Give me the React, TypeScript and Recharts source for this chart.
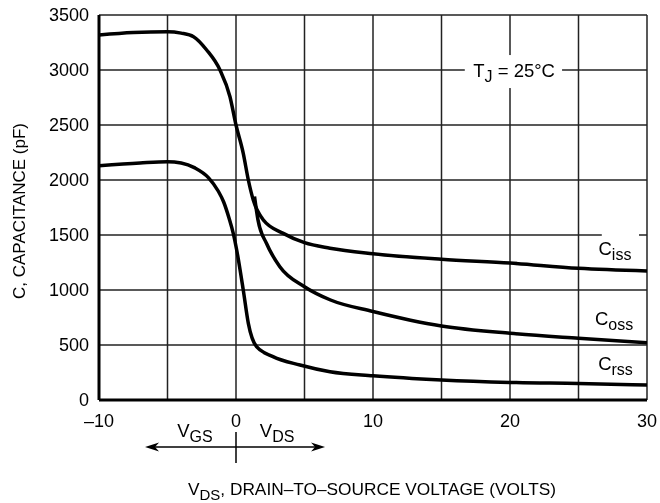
import React from 'react';
import { LineChart, Line, XAxis, YAxis, CartesianGrid, Customized } from 'recharts';

// ---- data ----
const xTicks = [-10, -5, 0, 5, 10, 15, 20, 25, 30];
const xLabelValues = [-10, 0, 10, 20, 30];
const xLabelTexts = ['\u201310', '0', '10', '20', '30'];
const yTicks = [0, 500, 1000, 1500, 2000, 2500, 3000, 3500];

const cissV = [-10, -7.5, -5, -4, -3.1, -2.14, -1.17, -0.44, 0, 0.53, 0.9, 1.26, 2, 3.45, 5, 6.86, 10, 15, 20, 25, 30];
const cissC = [3318, 3340, 3348, 3335, 3303, 3182, 3000, 2757, 2500, 2242, 2000, 1818, 1636, 1515, 1430, 1380, 1330, 1280, 1245, 1197, 1173];

const cossV = [1.35, 1.6, 2.24, 3.2, 5, 6.9, 10, 15, 20, 25, 30];
const cossC = [1850, 1640, 1420, 1212, 1030, 909, 805, 673, 606, 561, 521];

const crssV = [-10, -7, -5, -4, -3, -2, -1.3, -0.9, -0.5, -0.2, 0.05, 0.53, 0.9, 1.5, 2.7, 4.67, 6.86, 10, 15, 20, 25, 30];
const crssC = [2130, 2155, 2166, 2155, 2110, 2020, 1900, 1800, 1650, 1515, 1364, 1000, 697, 485, 394, 318, 257, 220, 182, 160, 150, 136];

const zip = (vs: number[], cs: number[]) => vs.map((v, i) => ({ v, c: cs[i] }));
const cissData = zip(cissV, cissC);
const cossData = zip(cossV, cossC);
const crssData = zip(crssV, crssC);

// ---- layout ----
const W = 652;
const H = 503;
const M = { top: 15, right: 13, left: 0, bottom: 73 };
const Y_W = 91;
const X_H = 30;
const PL = M.left + Y_W;
const PR = W - M.right;
const PT = M.top;
const PB = H - M.bottom - X_H;
const XMIN = -10, XMAX = 30, YMIN = 0, YMAX = 3500;
const sx = (v: number) => PL + ((v - XMIN) / (XMAX - XMIN)) * (PR - PL);
const sy = (c: number) => PB - ((c - YMIN) / (YMAX - YMIN)) * (PB - PT);

const FONT = "'Liberation Sans', Arial, Helvetica, sans-serif";
const FS = 18;
const AFS = 18.5;
const SUB = 16;

const Sub = ({ x, y, main, sub }: { x: number; y: number; main: string; sub: string }) => (
  <text x={x} y={y} textAnchor="middle" fontFamily={FONT} fontSize={AFS} fill="#000">
    <tspan>{main}</tspan>
    <tspan fontSize={SUB} dy={5}>{sub}</tspan>
  </text>
);

const Annotations = () => {
  const x0 = sx(0);
  const ay = PB + 47;
  const lx = sx(-6.64);
  const rx = sx(6.5);
  return (
    <g>
      {/* T_J box */}
      <rect x={sx(16.7)} y={sy(3136)} width={sx(23.8) - sx(16.7)} height={sy(2836) - sy(3136)} fill="#fff" />
      <text x={sx(20.3)} y={sy(2936)} textAnchor="middle" fontFamily={FONT} fontSize={AFS} fill="#000">
        <tspan>T</tspan>
        <tspan fontSize={SUB} dy={5}>J</tspan>
        <tspan dy={-5}> = 25°C</tspan>
      </text>
      {/* Ciss box */}
      <rect x={sx(26.7)} y={sy(1545)} width={sx(30) - sx(26.7) - 8} height={sy(1255) - sy(1545)} fill="#fff" />
      <Sub x={sx(27.66)} y={sy(1320)} main="C" sub="iss" />
      <Sub x={sx(27.6)} y={sy(680)} main="C" sub="oss" />
      <Sub x={sx(27.7)} y={sy(270)} main="C" sub="rss" />
      {/* V_GS / V_DS arrow */}
      <line x1={lx + 8} y1={ay} x2={rx - 8} y2={ay} stroke="#000" strokeWidth={1.5} />
      <path d={`M${lx},${ay} L${lx + 14},${ay - 4.5} L${lx + 10},${ay} L${lx + 14},${ay + 4.5} Z`} fill="#000" />
      <path d={`M${rx},${ay} L${rx - 14},${ay - 4.5} L${rx - 10},${ay} L${rx - 14},${ay + 4.5} Z`} fill="#000" />
      <line x1={x0} y1={PB + 32} x2={x0} y2={PB + 63} stroke="#000" strokeWidth={1.5} />
      <Sub x={sx(-3.0)} y={PB + 37} main="V" sub="GS" />
      <Sub x={sx(3.0)} y={PB + 37} main="V" sub="DS" />
      {/* axis titles */}
      <text x={364} y={PB + 95} textAnchor="middle" fontFamily={FONT} fontSize={17.3} fill="#000">
        <tspan>V</tspan>
        <tspan fontSize={15} dy={5}>DS</tspan>
        <tspan dy={-5}>, DRAIN–TO–SOURCE VOLTAGE (VOLTS)</tspan>
      </text>
      <text x={11} y={211} textAnchor="middle" fontFamily={FONT} fontSize={17} fill="#000" transform={`rotate(-90 11 211)`} dy={6}>
        C, CAPACITANCE (pF)
      </text>
    </g>
  );
};

const xFmt = (v: number) => {
  const i = xLabelValues.indexOf(v);
  return i >= 0 ? xLabelTexts[i] : '';
};

export default function App() {
  return (
    <div style={{ position: 'fixed', left: 8, top: 0, width: W, height: H }}>
      <LineChart width={W} height={H} margin={M}>
        <CartesianGrid stroke="#222" strokeWidth={1.5} />
        <XAxis
          type="number"
          dataKey="v"
          domain={[XMIN, XMAX]}
          ticks={xTicks}
          interval={0}
          tickFormatter={xFmt}
          tickLine={false}
          tickSize={0}
          tickMargin={14}
          height={X_H}
          axisLine={{ stroke: '#000', strokeWidth: 3 }}
          tick={{ fill: '#000', fontSize: FS, fontFamily: FONT }}
          allowDataOverflow
        />
        <YAxis
          type="number"
          domain={[YMIN, YMAX]}
          ticks={yTicks}
          interval={0}
          tickLine={false}
          tickSize={0}
          tickMargin={10}
          width={Y_W}
          axisLine={{ stroke: '#000', strokeWidth: 3 }}
          tick={{ fill: '#000', fontSize: FS, fontFamily: FONT }}
          allowDataOverflow
        />
        <Line data={cissData} dataKey="c" type="monotone" stroke="#000" strokeWidth={3.5} dot={false} isAnimationActive={false} />
        <Line data={cossData} dataKey="c" type="monotone" stroke="#000" strokeWidth={3.5} dot={false} isAnimationActive={false} />
        <Line data={crssData} dataKey="c" type="monotone" stroke="#000" strokeWidth={3.5} dot={false} isAnimationActive={false} />
        <Customized component={<Annotations />} />
      </LineChart>
    </div>
  );
}
